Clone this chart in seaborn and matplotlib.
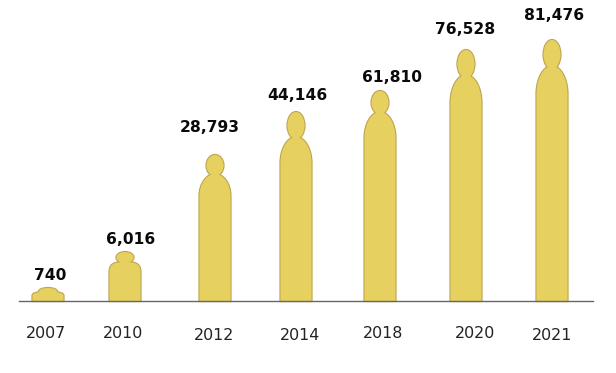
import matplotlib
matplotlib.use('Agg')
import matplotlib.pyplot as plt
from matplotlib.path import Path
from matplotlib.patches import PathPatch, Ellipse
import numpy as np
import seaborn as sns

years = ['2007', '2010', '2012', '2014', '2018', '2020', '2021']
value_labels = ['740', '6,016', '28,793', '44,146', '61,810', '76,528', '81,476']

# figure sizes, they do not follow the labels linearly
figure_heights = [13, 49, 146, 189, 210, 251, 261]
body_heights = [9, 39, 127, 164, 189, 226, 235]
shoulder_heights = [4, 11, 22, 26, 26, 28, 28]
head_heights = [7, 11, 21, 27, 23, 28, 29]
head_widths = [18, 17, 17, 17, 17, 17, 17]

bar_x = [48, 125, 215, 296, 380, 466, 552]
label_x = [50, 131, 210, 297, 392, 465, 554]
label_y = [276, 239, 127, 96, 78, 30, 15]
year_x = [46, 123, 214, 300, 383, 475, 552]
year_y = [333, 334, 335, 335, 334, 334, 336]

FILL = '#E6D05F'
EDGE = '#BDA552'
BASE_Y = 301
BAR_W = 31

sns.set_theme(style='white')
fig = plt.figure(figsize=(6.16, 3.73), dpi=100)
ax = fig.add_axes([0, 0, 1, 1])

# bars from seaborn give the size of each figure, then get swapped for the outline
# with native_scale the width is relative to the smallest gap between bars
sns.barplot(x=bar_x, y=figure_heights, native_scale=True, width=BAR_W / np.diff(bar_x).min(), color=FILL, ax=ax)
ax.set_xlim(0, 616)
ax.set_ylim(BASE_Y - 373, BASE_Y)


def body_path(x0, w, h, sh):
    # straight sides with a round shoulder on top, squarer on the short ones
    k = 0.78 if sh < 15 else 0.55
    side = h - sh
    xc = x0 + w / 2
    verts = [(x0, 0), (x0, side),
             (x0, side + k * sh), (xc - k * w / 2, h), (xc, h),
             (xc + k * w / 2, h), (x0 + w, side + k * sh), (x0 + w, side),
             (x0 + w, 0), (x0, 0)]
    codes = [Path.MOVETO, Path.LINETO, Path.CURVE4, Path.CURVE4, Path.CURVE4,
             Path.CURVE4, Path.CURVE4, Path.CURVE4, Path.LINETO, Path.CLOSEPOLY]
    return Path(verts, codes)


bars = list(ax.patches)
for bar, bh, sh, hh, hw in zip(bars, body_heights, shoulder_heights, head_heights, head_widths):
    x0 = bar.get_x()
    w = bar.get_width()
    top = bar.get_height()
    bar.remove()
    # outline underneath, fill on top, so head and body read as one shape
    for color, lw, z in [(EDGE, 1.6, 2), (FILL, 0, 3)]:
        ax.add_patch(Ellipse((x0 + w / 2, top - hh / 2), hw, hh, facecolor=FILL, edgecolor=color, linewidth=lw, zorder=z))
        ax.add_patch(PathPatch(body_path(x0, w, bh, sh), facecolor=FILL, edgecolor=color, linewidth=lw, zorder=z))

for x, y, t in zip(label_x, label_y, value_labels):
    ax.text(x, BASE_Y - y, t, ha='center', va='center', fontsize=11.2, fontweight='bold', color='#0a0a0a')
for x, y, t in zip(year_x, year_y, years):
    ax.text(x, BASE_Y - y, t, ha='center', va='center', fontsize=11.4, color='#222222')

ax.set_xticks([])
ax.set_yticks([])
ax.set_xlabel('')
ax.set_ylabel('')
ax.patch.set_visible(False)
sns.despine(ax=ax, left=True)
ax.spines['bottom'].set_position(('data', 0))
ax.spines['bottom'].set_bounds(19, 593)
ax.spines['bottom'].set_color('#666666')
ax.spines['bottom'].set_linewidth(1.0)
ax.spines['bottom'].set_zorder(4)

plt.savefig('out.png', dpi=100)
